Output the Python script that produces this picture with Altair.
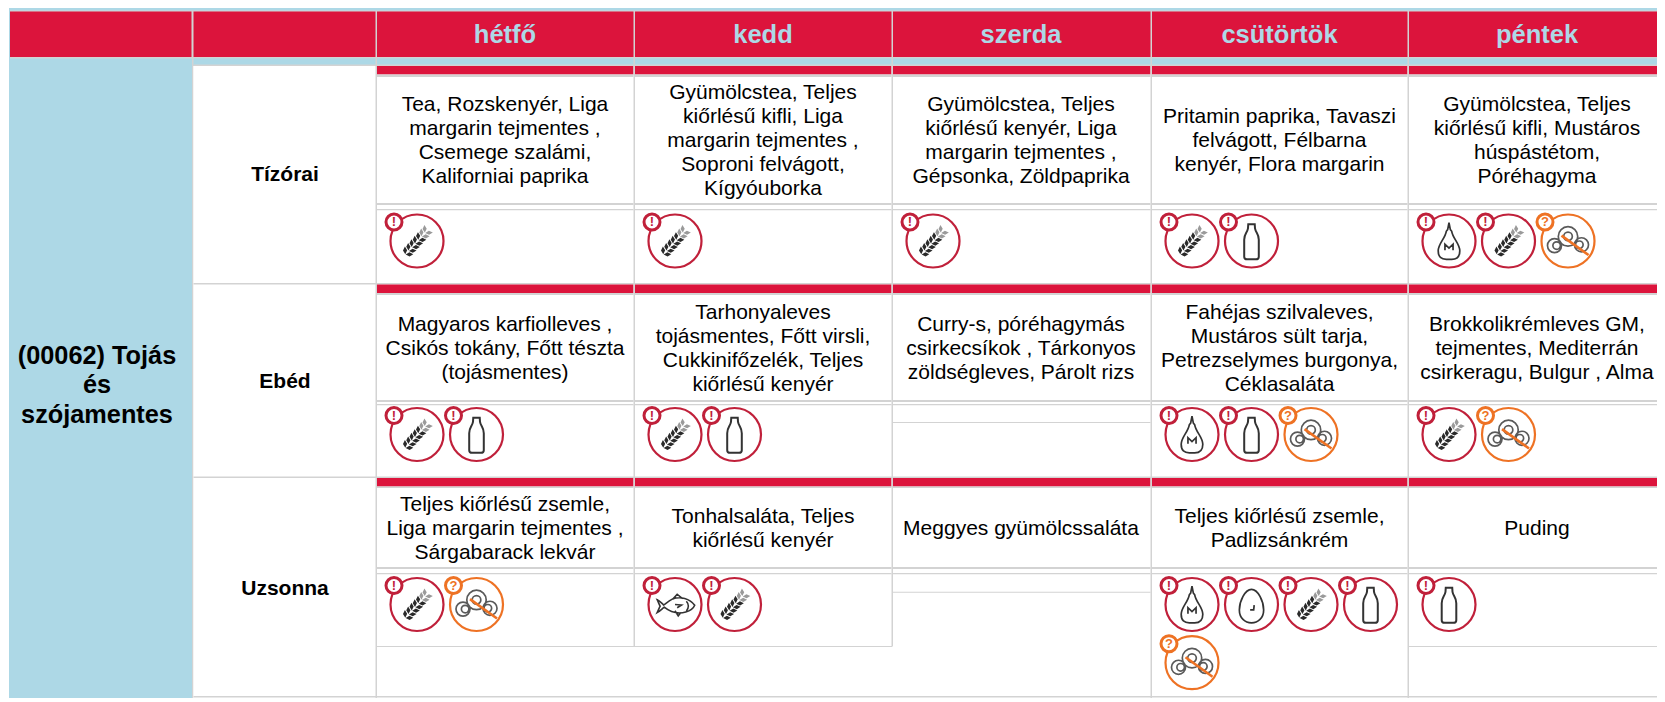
import altair as alt
import pandas as pd
import math

days = ["hétfő", "kedd", "szerda", "csütörtök", "péntek"]
menu_name = "(00062) Tojás\nés\nszójamentes"
meals = ["Tízórai", "Ebéd", "Uzsonna"]
tizorai = ["Tea, Rozskenyér, Liga\nmargarin tejmentes ,\nCsemege szalámi,\nKaliforniai paprika",
           "Gyümölcstea, Teljes\nkiőrlésű kifli, Liga\nmargarin tejmentes ,\nSoproni felvágott,\nKígyóuborka",
           "Gyümölcstea, Teljes\nkiőrlésű kenyér, Liga\nmargarin tejmentes ,\nGépsonka, Zöldpaprika",
           "Pritamin paprika, Tavaszi\nfelvágott, Félbarna\nkenyér, Flora margarin",
           "Gyümölcstea, Teljes\nkiőrlésű kifli, Mustáros\nhúspástétom,\nPóréhagyma"]
ebed = ["Magyaros karfiolleves ,\nCsikós tokány, Főtt tészta\n(tojásmentes)",
        "Tarhonyaleves\ntojásmentes, Főtt virsli,\nCukkinifőzelék, Teljes\nkiőrlésű kenyér",
        "Curry-s, póréhagymás\ncsirkecsíkok , Tárkonyos\nzöldségleves, Párolt rizs",
        "Fahéjas szilvaleves,\nMustáros sült tarja,\nPetrezselymes burgonya,\nCéklasaláta",
        "Brokkolikrémleves GM,\ntejmentes, Mediterrán\ncsirkeragu, Bulgur , Alma"]
uzsonna = ["Teljes kiőrlésű zsemle,\nLiga margarin tejmentes ,\n Sárgabarack lekvár",
           "Tonhalsaláta, Teljes\nkiőrlésű kenyér",
           "Meggyes gyümölcssaláta",
           "Teljes kiőrlésű zsemle,\nPadlizsánkrém",
           "Puding"]
# allergen icons: W wheat, B bottle of milk, M mustard, E egg, F fish, S soy
allergens_tizorai = ["W", "W", "W", "WB", "MWS"]
allergens_ebed = ["WB", "WB", "", "MBS", "WS"]
allergens_uzsonna = ["WS", "FW", "", "MEWBS", "B"]

RED, BLUE, GRAY = "#DC143C", "#ADD8E6", "#D3D3D3"
RING, ORANGE, INK = "#C0203A", "#EE7224", "#333333"
LH = 24
BIG_LH = 29.5
W, H = 1649, 690
XMAX, YMAX = 8 + W, 8 + H

day_left = [377, 635, 893, 1152, 1409]
day_right = [633.5, 891.5, 1150.5, 1407.5, 1665]
day_center = [505, 763, 1021, 1279.5, 1537]
# stripe top, text top, text bottom, icon top, row bottom, icon centre
row_geo = [(66, 77, 203, 210.5, 283, 241),
           (284.5, 295, 400, 405.5, 476.5, 434.5),
           (478, 488, 567, 574.5, 696, 604.5)]
row_mid = [175, 381.5, 589]

rects = []
def box(x0, x1, y0, y1, c):
    rects.append(dict(x=x0, x2=min(x1, XMAX), y=y0, y2=min(y1, YMAX), c=c))

box(9, XMAX, 8, 66, BLUE)
box(9, 192, 57, YMAX, BLUE)
box(10, XMAX, 10.5, 58.5, GRAY)
box(10, 191.5, 11.5, 57, RED)
box(193.5, 375.5, 11.5, 57, RED)
for l, r in zip(day_left, day_right):
    box(l, r, 11.5, 57, RED)
box(192, XMAX, 58.5, 64.5, BLUE)
box(193.5, XMAX, 64.5, 66, GRAY)
box(192, 193.5, 57, YMAX, GRAY)
box(193.5, 375.5, 66, YMAX, "#FFFFFF")
box(375.5, 377, 57, YMAX, GRAY)
for top, ttop, tbot, itop, bot, _ in row_geo:
    for i, (l, r) in enumerate(zip(day_left, day_right)):
        box(l, r, top, top + 8.5, RED)
        box(l, r, top + 8.5, ttop, GRAY)
        box(l, r, ttop, tbot, "#FFFFFF")
        box(l, r, tbot, tbot + 2, GRAY)
        box(l, r, tbot + 2, itop - 1.5, "#FFFFFF")
        box(l, r, itop - 1.5, itop, GRAY)
        box(l, r, itop, bot, "#FFFFFF")
    box(193.5, XMAX, bot, bot + 1.5, GRAY)
for x, y0, y1 in [(633.5, 57, 646.5), (891.5, 57, 646.5), (1150.5, 57, YMAX), (1407.5, 57, YMAX)]:
    box(x, x + 1.5, y0, y1, GRAY)
box(377, 892, 646, 647, GRAY)
box(1409, XMAX, 646, 647, GRAY)
box(893, 1150.5, 422, 423, GRAY)
box(893, 1150.5, 591.8, 592.8, GRAY)


def first_line(center, text, lh):
    return center - text.count("\n") * lh / 2


body, icons = [], []
for g, texts, codes in zip(row_geo, [tizorai, ebed, uzsonna],
                           [allergens_tizorai, allergens_ebed, allergens_uzsonna]):
    for cx, l, t, code in zip(day_center, day_left, texts, codes):
        body.append(dict(x=cx, y=first_line((g[1] + g[2]) / 2 + 1, t, LH), t=t))
        for i, k in enumerate(code):
            icons.append(dict(x=l + 40 + 59.5 * (i % 4), y=g[5] + 58.2 * (i // 4), k=k))
rowlabels = [dict(x=285, y=y, t=m) for y, m in zip(row_mid, meals)]
heads = [dict(x=c, y=35, t=d) for c, d in zip(day_center, days)]

icon_df = pd.DataFrame(icons)
icon_df["bx"] = icon_df.x - 23
icon_df["by"] = icon_df.y - 19
icon_df["mark"] = ["?" if k == "S" else "!" for k in icon_df.k]

xs = alt.Scale(domain=[8, XMAX], range=[0, W], nice=False, zero=False)
ys = alt.Scale(domain=[8, YMAX], range=[0, H], nice=False, zero=False)
X = lambda f: alt.X(f, type="quantitative", scale=xs, axis=None)
Y = lambda f: alt.Y(f, type="quantitative", scale=ys, axis=None)


def circle(cx, cy, rx, ry=None):
    ry = ry or rx
    k = 0.5523
    return (f"M{cx-rx:.3f} {cy:.3f}C{cx-rx:.3f} {cy-k*ry:.3f} {cx-k*rx:.3f} {cy-ry:.3f} {cx:.3f} {cy-ry:.3f}"
            f"C{cx+k*rx:.3f} {cy-ry:.3f} {cx+rx:.3f} {cy-k*ry:.3f} {cx+rx:.3f} {cy:.3f}"
            f"C{cx+rx:.3f} {cy+k*ry:.3f} {cx+k*rx:.3f} {cy+ry:.3f} {cx:.3f} {cy+ry:.3f}"
            f"C{cx-k*rx:.3f} {cy+ry:.3f} {cx-rx:.3f} {cy+k*ry:.3f} {cx-rx:.3f} {cy:.3f}Z")


def wheat(start, stop):
    dx, dy = 0.67, -0.74
    nx, ny = 0.74, 0.67
    out = ""
    for s in range(start, stop):
        px, py = -0.36 + dx * s * 0.18, 0.42 + dy * s * 0.18
        for sd in (-1, 1):
            cx, cy = px + nx * 0.11 * sd, py + ny * 0.11 * sd
            ax, ay = (dx + sd * nx) * 0.1, (dy + sd * ny) * 0.1
            bx, by = (-ay) * 0.55, ax * 0.55
            out += (f"M{cx-ax:.3f} {cy-ay:.3f}L{cx+bx:.3f} {cy+by:.3f}L{cx+ax:.3f} {cy+ay:.3f}"
                    f"L{cx-bx:.3f} {cy-by:.3f}Z")
    return out


BOTTLE = ("M-0.12 -0.62L0.12 -0.62L0.13 -0.47C0.16 -0.3 0.27 -0.28 0.27 -0.05L0.27 0.58"
          "C0.27 0.66 0.22 0.68 0.16 0.68L-0.16 0.68C-0.22 0.68 -0.27 0.66 -0.27 0.58L-0.27 -0.05"
          "C-0.27 -0.28 -0.16 -0.3 -0.13 -0.47Z")
MUSTARD = ("M0 -0.68L0.05 -0.42L0.1 -0.36C0.14 -0.1 0.4 0.1 0.4 0.36C0.4 0.6 0.28 0.68 0.1 0.68"
           "L-0.1 0.68C-0.28 0.68 -0.4 0.6 -0.4 0.36C-0.4 0.1 -0.14 -0.1 -0.1 -0.36L-0.05 -0.42Z"
           "M-0.15 0.34L-0.15 0.12L0 0.26L0.15 0.12L0.15 0.34")
EGG = ("M0 -0.56C0.24 -0.56 0.45 -0.12 0.45 0.2C0.45 0.5 0.24 0.68 0 0.68C-0.24 0.68 -0.45 0.5 -0.45 0.2"
       "C-0.45 -0.12 -0.24 -0.56 0 -0.56ZM0.1 0.02L0.08 0.2L-0.05 0.2")
FISH = ("M0.73 0.03C0.55 -0.22 0.2 -0.32 -0.1 -0.2C-0.25 -0.12 -0.38 0 -0.42 0.02"
        "C-0.5 -0.05 -0.58 -0.15 -0.66 -0.18C-0.6 -0.05 -0.58 0.02 -0.55 0.06"
        "C-0.58 0.12 -0.62 0.22 -0.66 0.3C-0.56 0.25 -0.48 0.16 -0.4 0.1"
        "C-0.2 0.26 0.1 0.36 0.4 0.28C0.55 0.24 0.68 0.15 0.73 0.03Z"
        "M0.42 -0.12C0.52 -0.02 0.52 0.14 0.42 0.24M-0.08 -0.2L0.08 -0.38L0.28 -0.22"
        "M0 0.23L0.12 0.42L0.22 0.3M0.0 0.0L0.24 0.02L0.08 0.12")
SOY = (circle(0, -0.17, 0.36) + circle(0, -0.17, 0.16) + circle(-0.5, 0.17, 0.26) + circle(-0.42, 0.17, 0.14)
       + circle(0.5, 0.14, 0.26) + circle(0.42, 0.14, 0.14))
SLASH = "M-0.24 -0.2L0.76 0.52"

layers = [
    alt.Chart(pd.DataFrame(rects)).mark_rect(strokeWidth=0).encode(
        x=X("x"), x2="x2", y=Y("y"), y2="y2", color=alt.Color("c:N", scale=None)),
    alt.Chart(pd.DataFrame(body)).mark_text(font="Liberation Sans", fontSize=21, lineHeight=LH,
                                            lineBreak="\n", baseline="middle", align="center", color="#000000").encode(
        x=X("x"), y=Y("y"), text="t:N"),
    alt.Chart(pd.DataFrame(rowlabels)).mark_text(font="Liberation Sans", fontSize=21, fontWeight="bold",
                                                 baseline="middle", align="center", color="#000000").encode(
        x=X("x"), y=Y("y"), text="t:N"),
    alt.Chart(pd.DataFrame(heads)).mark_text(font="Liberation Sans", fontSize=25.5, fontWeight="bold",
                                             baseline="middle", align="center", color=BLUE).encode(
        x=X("x"), y=Y("y"), text="t:N"),
    alt.Chart(pd.DataFrame([dict(x=97, y=first_line(385, menu_name, BIG_LH), t=menu_name)])).mark_text(
        font="Liberation Sans", fontSize=25.3, fontWeight="bold", lineHeight=BIG_LH, lineBreak="\n",
        baseline="middle", align="center", color="#000000").encode(x=X("x"), y=Y("y"), text="t:N"),
]


def pts(df, **kw):
    return alt.Chart(df).mark_point(opacity=1, **kw).encode(x=X("x"), y=Y("y"))


S = 54 ** 2
red = icon_df[icon_df.k != "S"]
org = icon_df[icon_df.k == "S"]
layers.append(pts(red, shape="circle", size=53 ** 2, filled=False, stroke=RING, strokeWidth=2.2))
layers.append(pts(org, shape="circle", size=53 ** 2, filled=False, stroke=ORANGE, strokeWidth=2.2))
layers.append(pts(icon_df[icon_df.k == "W"], shape=wheat(0, 5), size=S, filled=True, fill="#2A2A2A", strokeWidth=0))
layers.append(pts(icon_df[icon_df.k == "W"], shape=wheat(5, 7), size=S, filled=True, fill="#9A9A9A", strokeWidth=0))
for k, p, sw in [("B", BOTTLE, 2), ("M", MUSTARD, 1.7), ("E", EGG, 1.7), ("F", FISH, 1.6)]:
    layers.append(pts(icon_df[icon_df.k == k], shape=p, size=S, filled=False, stroke=INK, strokeWidth=sw))
layers.append(pts(org, shape=SOY, size=S, filled=False, stroke="#5A5A5A", strokeWidth=1.7))
layers.append(pts(org, shape=SLASH, size=S, filled=False, stroke=ORANGE, strokeWidth=2.6))
for df, c in [(red, RING), (org, ORANGE)]:
    layers.append(alt.Chart(df).mark_point(shape="circle", size=16 ** 2, filled=True, fill="#FFFFFF",
                                           stroke=c, strokeWidth=3, opacity=1).encode(x=X("bx"), y=Y("by")))
    layers.append(alt.Chart(df).mark_text(font="Liberation Sans", fontSize=13, fontWeight="bold", color=c,
                                          baseline="middle", align="center").encode(
        x=X("bx"), y=Y("by"), text="mark:N"))

chart = alt.layer(*layers).properties(
    width=W, height=H, padding=0, background="#FFFFFF",
    autosize=alt.AutoSizeParams(type="none"),
).configure_view(stroke=None)
chart.save("out.html", embed_options={"renderer": "svg", "actions": False})
